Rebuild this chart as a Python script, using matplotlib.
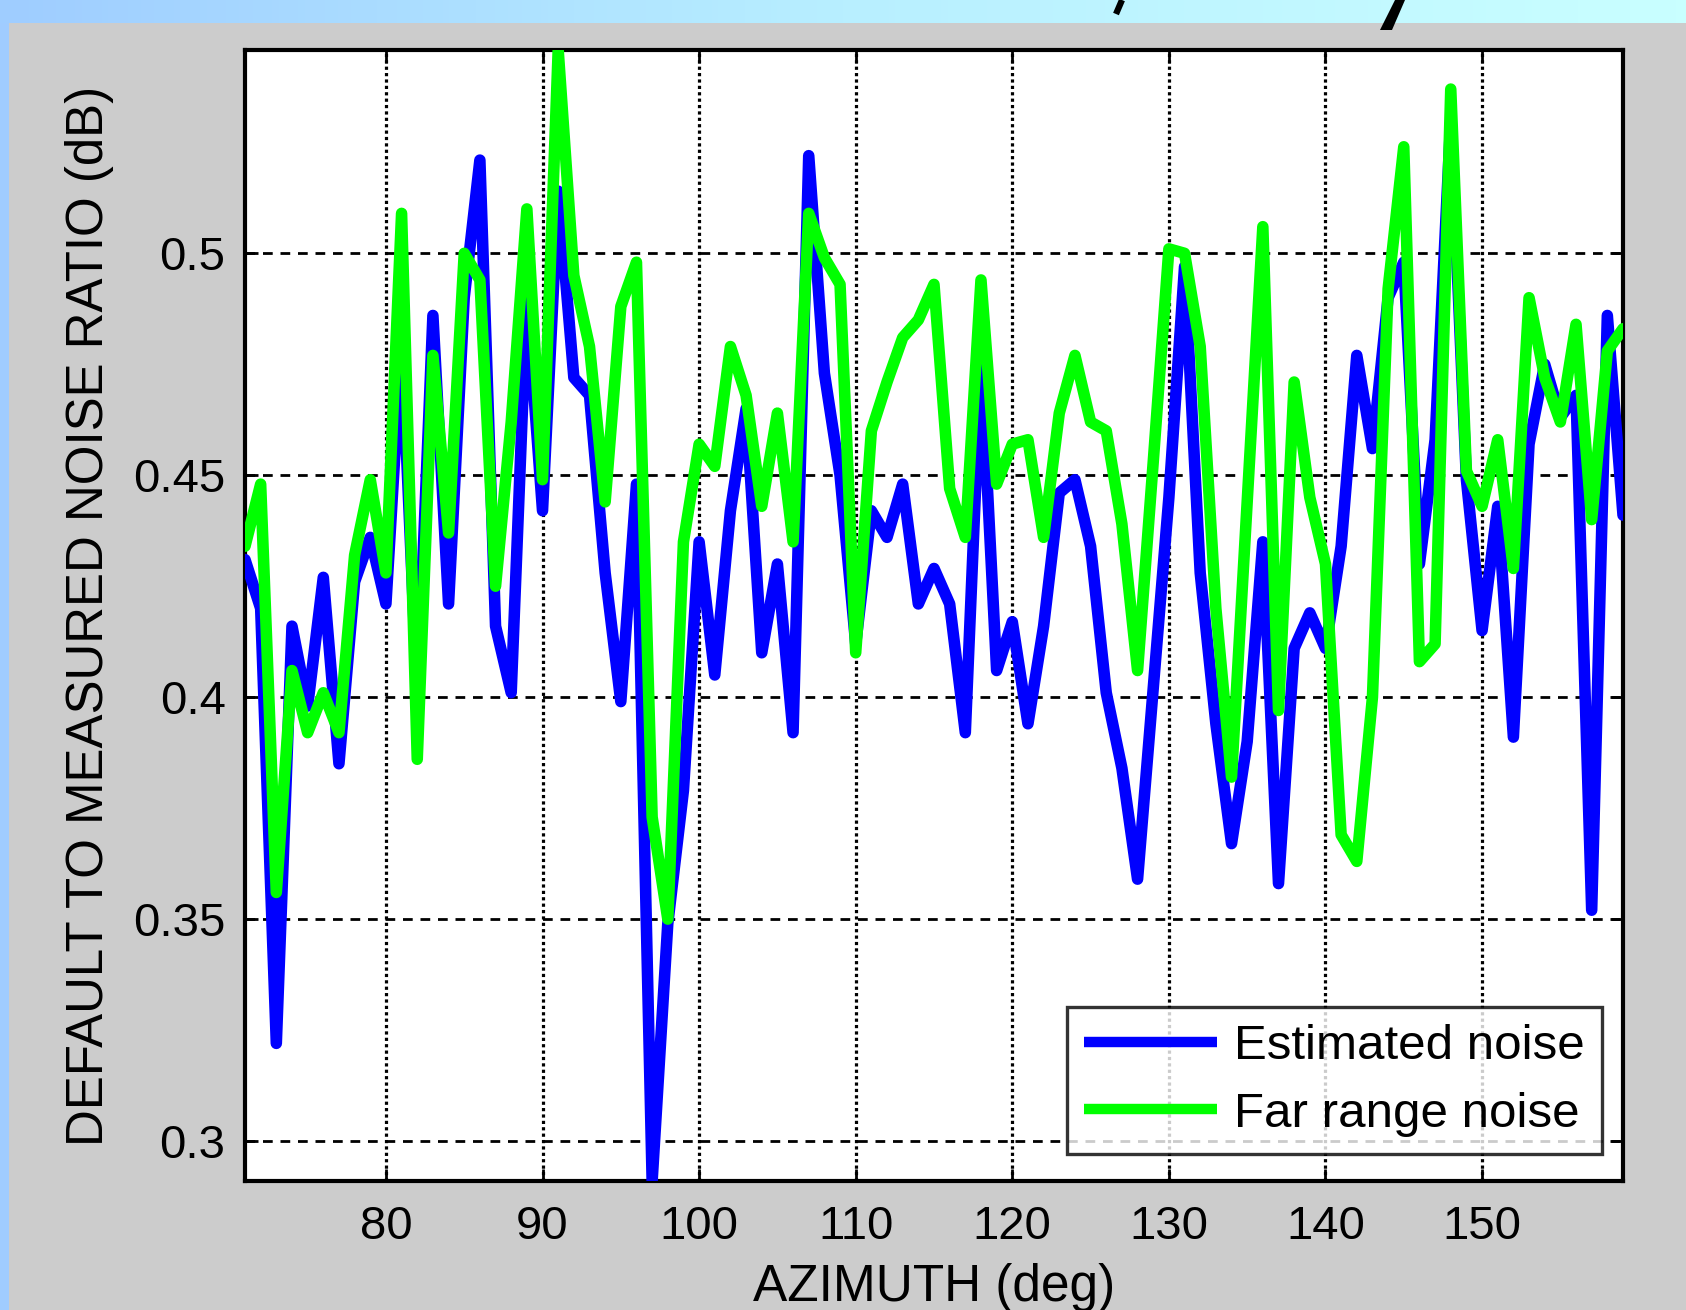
import numpy as np
import matplotlib
matplotlib.use("Agg")
import matplotlib.pyplot as plt
from matplotlib.colors import LinearSegmentedColormap

azimuth = list(range(71, 160))

estimated_noise = [
    0.431, 0.420, 0.322, 0.416, 0.398, 0.427, 0.385, 0.426, 0.436, 0.421,   # 71-80
    0.480, 0.400, 0.486, 0.421, 0.490, 0.521, 0.416, 0.401, 0.490, 0.442,   # 81-90
    0.514, 0.472, 0.468, 0.428, 0.399, 0.448, 0.291, 0.349, 0.379, 0.435,   # 91-100
    0.405, 0.442, 0.465, 0.410, 0.430, 0.392, 0.522, 0.473, 0.450, 0.412,   # 101-110
    0.442, 0.436, 0.448, 0.421, 0.429, 0.421, 0.392, 0.476, 0.406, 0.417,   # 111-120
    0.394, 0.416, 0.446, 0.449, 0.434, 0.401, 0.384, 0.359, 0.402, 0.445,   # 121-130
    0.497, 0.428, 0.394, 0.367, 0.390, 0.435, 0.358, 0.411, 0.419, 0.411,   # 131-140
    0.434, 0.477, 0.456, 0.490, 0.498, 0.430, 0.458, 0.530, 0.449, 0.415,   # 141-150
    0.443, 0.391, 0.457, 0.475, 0.463, 0.468, 0.352, 0.486, 0.441,          # 151-159
]

far_range_noise = [
    0.434, 0.448, 0.356, 0.406, 0.392, 0.401, 0.392, 0.432, 0.449, 0.428,   # 71-80
    0.509, 0.386, 0.477, 0.437, 0.500, 0.494, 0.425, 0.462, 0.510, 0.449,   # 81-90
    0.5458, 0.495, 0.479, 0.444, 0.488, 0.498, 0.373, 0.350, 0.435, 0.457,  # 91-100
    0.452, 0.479, 0.468, 0.443, 0.464, 0.435, 0.509, 0.499, 0.493, 0.410,   # 101-110
    0.460, 0.471, 0.481, 0.485, 0.493, 0.447, 0.436, 0.494, 0.448, 0.457,   # 111-120
    0.458, 0.436, 0.464, 0.477, 0.462, 0.460, 0.439, 0.406, 0.453, 0.501,   # 121-130
    0.500, 0.479, 0.420, 0.382, 0.444, 0.506, 0.397, 0.471, 0.445, 0.430,   # 131-140
    0.369, 0.363, 0.400, 0.492, 0.524, 0.408, 0.412, 0.537, 0.451, 0.443,   # 141-150
    0.458, 0.429, 0.490, 0.472, 0.462, 0.484, 0.440, 0.478, 0.483,          # 151-159
]

x_ticks = [80, 90, 100, 110, 120, 130, 140, 150]
y_ticks = [0.3, 0.35, 0.4, 0.45, 0.5]
y_tick_labels = ["0.3", "0.35", "0.4", "0.45", "0.5"]
series_labels = ["Estimated noise", "Far range noise"]

plt.rcParams['font.family'] = ['Liberation Sans', 'DejaVu Sans']

W, H = 1686, 1310
fig = plt.figure(figsize=(W / 100, H / 100), dpi=100, facecolor='#cccccc')

# slide background: top gradient band and left strip
bg = fig.add_axes([0, 0, 1, 1], zorder=-10)
bg.set_axis_off()
cmap = LinearSegmentedColormap.from_list('band', ['#9fcdff', '#b8efff', '#c9ffff'])
grad = np.linspace(0, 1, 256).reshape(1, -1)
bg.imshow(grad, cmap=cmap, extent=[0, W, 23, 0], aspect='auto', interpolation='bilinear')
bg.fill_between([0, 9], [23, 23], [H, H], color='#a0ccff', lw=0)
# fragments of the cut-off slide title (bottoms of glyphs)
bg.plot([1122, 1116], [0, 14], color='black', lw=4.5, solid_capstyle='butt')
bg.fill([1395, 1405, 1392, 1380], [0, 0, 30, 30], color='black', lw=0)
bg.set_xlim(0, W)
bg.set_ylim(H, 0)

L, R, T, B = 245, 1623, 50, 1181
ax = fig.add_axes([L / W, (H - B) / H, (R - L) / W, (B - T) / H])
ax.set_facecolor('white')

ax.plot(azimuth, estimated_noise, color='#0000ff', lw=8.3, solid_joinstyle='round',
        solid_capstyle='round', label=series_labels[0], zorder=3)
ax.plot(azimuth, far_range_noise, color='#00ff00', lw=8.3, solid_joinstyle='round',
        solid_capstyle='round', label=series_labels[1], zorder=4)

ax.set_xlim(71, 159)
ax.set_ylim(0.291, 0.5458)
ax.set_xticks(x_ticks)
ax.set_yticks(y_ticks)
ax.set_yticklabels(y_tick_labels)

for xv in x_ticks:
    ax.axvline(xv, color='black', lw=2.3, linestyle=(0, (1.0, 1.0)), zorder=1)
for yv in y_ticks:
    ax.axhline(yv, color='black', lw=2.0, linestyle=(0, (3.5, 2.8)), zorder=1)

ax.tick_params(direction='in', length=9, width=2.0, labelsize=34, pad=14,
               top=True, right=True, colors='black')
ax.tick_params(axis='x', pad=17)
for s in ax.spines.values():
    s.set_linewidth(3.0)
    s.set_color('black')

ax.set_xlabel("AZIMUTH (deg)", fontsize=37, labelpad=10)
ax.set_ylabel("DEFAULT TO MEASURED NOISE RATIO (dB)", fontsize=36.7, labelpad=14)

leg = ax.legend(loc='lower right', bbox_to_anchor=(0.985, 0.024), borderaxespad=0,
                fontsize=35.5, frameon=True, fancybox=False, handlelength=2.7,
                handletextpad=0.35, borderpad=0.35, labelspacing=0.45)
leg.get_frame().set_edgecolor('black')
leg.get_frame().set_linewidth(2.4)
for h in leg.get_lines():
    h.set_linewidth(7.5)
    h.set_solid_capstyle('butt')

fig.savefig('out.png', dpi=100, facecolor=fig.get_facecolor())
